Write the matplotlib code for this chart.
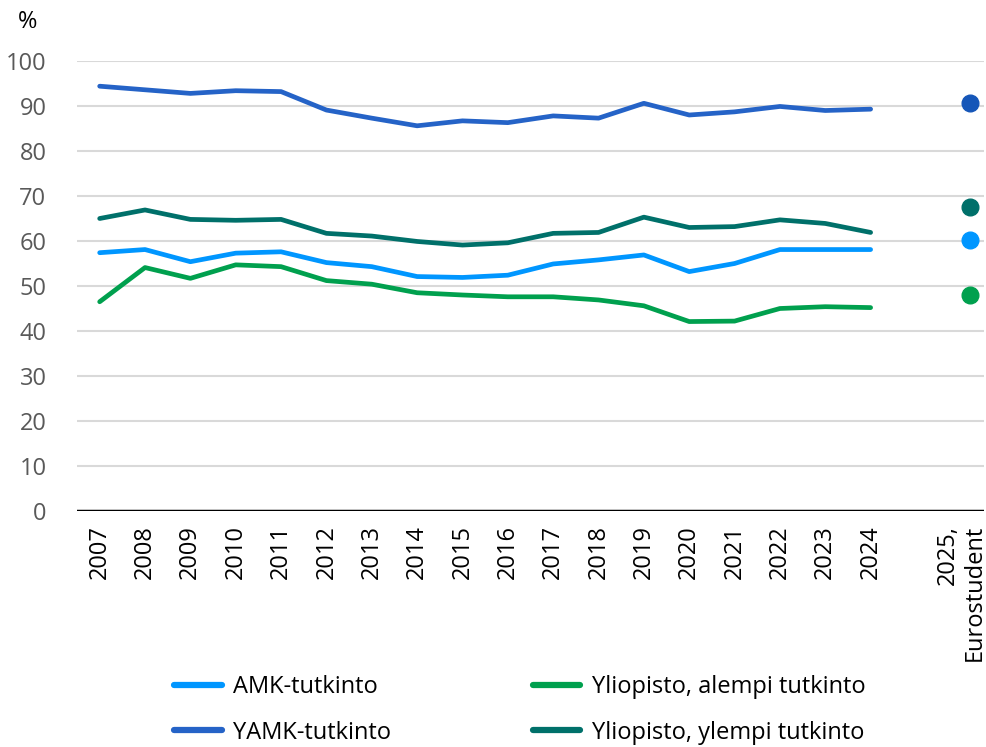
import matplotlib.pyplot as plt

years = [str(y) for y in range(2007, 2025)]
euro_label = "2025,\nEurostudent"

amk = [57.4, 58.1, 55.4, 57.3, 57.6, 55.2, 54.3, 52.1, 51.9, 52.4,
       54.9, 55.8, 56.9, 53.2, 55.0, 58.1, 58.1, 58.1]
yamk = [94.4, 93.6, 92.8, 93.4, 93.2, 89.1, 87.3, 85.6, 86.7, 86.3,
        87.8, 87.3, 90.6, 88.0, 88.7, 89.9, 89.0, 89.3]
yo_alempi = [46.5, 54.1, 51.7, 54.7, 54.3, 51.2, 50.4, 48.5, 48.0, 47.6,
             47.6, 46.9, 45.6, 42.1, 42.2, 45.0, 45.4, 45.2]
yo_ylempi = [65.0, 66.9, 64.8, 64.6, 64.8, 61.7, 61.1, 59.9, 59.1, 59.6,
             61.7, 61.9, 65.3, 63.0, 63.2, 64.7, 63.9, 61.9]
eurostudent = {"amk": 60.2, "yamk": 90.6, "alempi": 47.9, "ylempi": 67.6}

plt.rcParams['font.family'] = ['Open Sans', 'DejaVu Sans']

fig = plt.figure(figsize=(9.87, 7.47), dpi=100)
ax = fig.add_axes([77 / 987, 1 - 511 / 747, 907 / 987, 450 / 747])

x = list(range(len(years)))
euro_x = len(years) + 1.2

series = [
    ("AMK-tutkinto", amk, "#0096FF", "#0096FF", "amk"),
    ("YAMK-tutkinto", yamk, "#2563C7", "#1556B8", "yamk"),
    ("Yliopisto, alempi tutkinto", yo_alempi, "#00A04E", "#00A04E", "alempi"),
    ("Yliopisto, ylempi tutkinto", yo_ylempi, "#00706A", "#00706A", "ylempi"),
]
for label, vals, col, dotcol, key in series:
    ax.plot(x, vals, color=col, lw=3.4, solid_capstyle='round', label=label, zorder=3)
    ax.plot([euro_x], [eurostudent[key]], 'o', color=dotcol, ms=12, zorder=3)

ax.set_xlim(-0.5, len(years) + 1.5)
ax.set_ylim(0, 100)
ax.set_yticks(range(0, 101, 10))
ax.yaxis.grid(True, color="#D9D9D9", lw=1.5)
ax.set_axisbelow(True)
ax.axhline(0, color="black", lw=2.5, zorder=4)
for s in ax.spines.values():
    s.set_visible(False)

ax.set_xticks(x + [len(years) + 1])
ax.set_xticklabels(years + [euro_label], rotation=90, fontsize=17,
                   ha='center', va='top', multialignment='right')
ax.tick_params(axis='x', length=0, pad=10, colors='black')
ax.tick_params(axis='y', length=0, pad=22, labelsize=17, labelcolor='#595959')

fig.text(28 / 987, 1 - 22 / 747, "%", fontsize=17, ha='center', va='center')

leg = fig.legend(loc='center', bbox_to_anchor=(520 / 987, 1 - 710 / 747), ncol=2,
                 frameon=False, fontsize=17, handlelength=2.0, handletextpad=0.5,
                 columnspacing=6.0, labelspacing=0.9)
for h in leg.get_lines():
    h.set_linewidth(4.5)
    h.set_solid_capstyle('round')

fig.savefig("out.png", dpi=100)
